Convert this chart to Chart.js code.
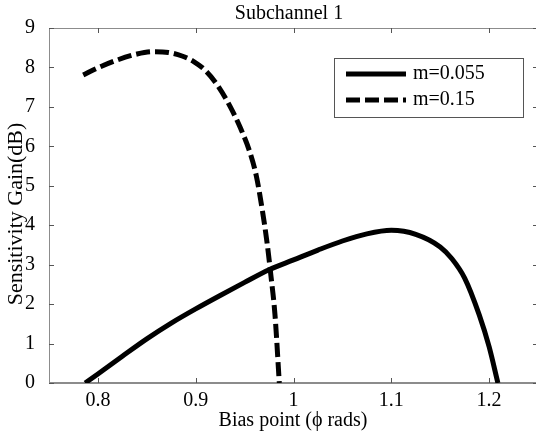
<!DOCTYPE html>
<html>
<head>
<meta charset="utf-8">
<script src="https://cdn.jsdelivr.net/npm/chart.js@4/dist/chart.umd.min.js"></script>
<style>
  html, body { margin: 0; padding: 0; background: #fff; overflow: hidden; }
  #wrap { width: 538px; height: 436px; position: relative; }
</style>
</head>
<body>
<div id="wrap"><canvas id="chart"></canvas></div>
<script>
// values
const xSolid = [0.787, 0.80, 0.825, 0.85, 0.875, 0.90, 0.925, 0.95, 0.975, 1.0, 1.025, 1.05, 1.075, 1.10, 1.125, 1.15, 1.162, 1.175, 1.19, 1.20, 1.209];
const ySolid = [0, 0.23, 0.68, 1.12, 1.52, 1.88, 2.22, 2.55, 2.87, 3.12, 3.37, 3.60, 3.78, 3.87, 3.77, 3.45, 3.15, 2.66, 1.72, 0.92, 0];

const xDashed = [0.785, 0.80, 0.82, 0.84, 0.857, 0.872, 0.886, 0.898, 0.91, 0.922, 0.935, 0.946, 0.955, 0.962, 0.968, 0.973, 0.977, 0.981, 0.9855];
const yDashed = [7.81, 7.99, 8.19, 8.34, 8.40, 8.38, 8.29, 8.15, 7.92, 7.56, 7.02, 6.45, 5.88, 5.25, 4.40, 3.55, 2.70, 1.75, 0];

const seriesLabels = ['m=0.055', 'm=0.15'];
const xTicks = [0.8, 0.9, 1.0, 1.1, 1.2];
const yTicks = [0, 1, 2, 3, 4, 5, 6, 7, 8, 9];

const titleText = 'Subchannel 1';
const xTitle = 'Bias point (\u03D5 rads)';
const yTitle = 'Sensitivity Gain(dB)';

const FONT = "'Liberation Serif', 'Times New Roman', serif";
const axisGray = '#8c8c8c';

const toPoints = (xs, ys) => xs.map((x, i) => ({ x: x, y: ys[i] }));

// box, inner ticks, title, axis titles and legend
const decorations = {
    id: 'decorations',
    beforeDatasetsDraw(chart) {
        const { ctx, chartArea: a, scales } = chart;
        ctx.save();
        ctx.strokeStyle = axisGray;
        ctx.lineWidth = 1;
        ctx.beginPath();
        // box
        ctx.moveTo(a.left + 0.5, a.top + 0.5);
        ctx.lineTo(a.right - 0.5, a.top + 0.5);
        ctx.lineTo(a.right - 0.5, a.bottom);
        ctx.moveTo(a.left + 0.5, a.top);
        ctx.lineTo(a.left + 0.5, a.bottom);
        ctx.stroke();
        ctx.lineWidth = 2;
        ctx.beginPath();
        ctx.moveTo(a.left, a.bottom);
        ctx.lineTo(a.right, a.bottom);
        ctx.stroke();

        ctx.strokeStyle = '#555';
        ctx.lineWidth = 1;
        ctx.beginPath();
        xTicks.forEach(v => {
            const px = Math.round(scales.x.getPixelForValue(v)) + 0.5;
            ctx.moveTo(px, a.bottom);
            ctx.lineTo(px, a.bottom - 5);
            ctx.moveTo(px, a.top);
            ctx.lineTo(px, a.top + 5);
        });
        yTicks.forEach(v => {
            const py = Math.round(scales.y.getPixelForValue(v)) + 0.5;
            ctx.moveTo(a.left, py);
            ctx.lineTo(a.left + 5, py);
            ctx.moveTo(a.right, py);
            ctx.lineTo(a.right - 5, py);
        });
        ctx.stroke();
        ctx.restore();
    },
    afterDraw(chart) {
        const { ctx } = chart;
        ctx.save();
        ctx.fillStyle = '#000';
        ctx.textAlign = 'center';
        ctx.textBaseline = 'middle';
        ctx.font = '20px ' + FONT;
        ctx.fillText(titleText, 289, 14);
        ctx.fillText(xTitle, 293, 421);

        ctx.save();
        ctx.font = '22px ' + FONT;
        ctx.translate(16, 214);
        ctx.rotate(-Math.PI / 2);
        ctx.fillText(yTitle, 0, 0);
        ctx.restore();

        // legend
        const lx = 334, ly = 58, lw = 189, lh = 59;
        ctx.fillStyle = '#fff';
        ctx.fillRect(lx, ly, lw, lh);
        ctx.strokeStyle = '#555';
        ctx.lineWidth = 1;
        ctx.strokeRect(lx + 0.5, ly + 0.5, lw, lh);
        chart.data.datasets.forEach((ds, i) => {
            const yy = ly + 16 + i * 26;
            ctx.strokeStyle = ds.borderColor;
            ctx.lineWidth = ds.borderWidth;
            ctx.lineCap = 'butt';
            ctx.setLineDash(ds.borderDash || []);
            ctx.beginPath();
            ctx.moveTo(lx + 12, yy);
            ctx.lineTo(lx + 72, yy);
            ctx.stroke();
            ctx.setLineDash([]);
            ctx.fillStyle = '#000';
            ctx.font = '20px ' + FONT;
            ctx.textAlign = 'left';
            ctx.fillText(ds.label, lx + 79, yy);
        });
        ctx.restore();
    }
};

new Chart(document.getElementById('chart'), {
    type: 'scatter',
    data: {
        datasets: [
            {
                label: seriesLabels[0],
                data: toPoints(xSolid, ySolid),
                showLine: true,
                borderColor: '#000',
                borderWidth: 5,
                pointRadius: 0,
                cubicInterpolationMode: 'monotone',
                borderCapStyle: 'butt'
            },
            {
                label: seriesLabels[1],
                data: toPoints(xDashed, yDashed),
                showLine: true,
                borderColor: '#000',
                borderWidth: 5,
                borderDash: [14, 5],
                pointRadius: 0,
                cubicInterpolationMode: 'monotone',
                borderCapStyle: 'butt'
            }
        ]
    },
    options: {
        responsive: true,
        maintainAspectRatio: false,
        animation: false,
        events: [],
        layout: { padding: { top: 28, left: 0, right: 0, bottom: 0 } },
        plugins: {
            legend: { display: false },
            title: { display: false },
            tooltip: { enabled: false }
        },
        scales: {
            x: {
                type: 'linear',
                min: 0.75,
                max: 1.25,
                grid: { display: false },
                border: { display: false },
                afterBuildTicks: s => { s.ticks = xTicks.map(v => ({ value: v })); },
                afterFit: s => { s.height = 53; },
                ticks: {
                    color: '#000',
                    padding: -2,
                    maxRotation: 0,
                    font: { family: FONT, size: 20 },
                    callback: v => String(+Number(v).toFixed(2))
                }
            },
            y: {
                type: 'linear',
                min: 0,
                max: 9,
                grid: { display: false },
                border: { display: false },
                afterBuildTicks: s => { s.ticks = yTicks.map(v => ({ value: v })); },
                afterFit: s => { s.width = 49; },
                ticks: {
                    color: '#000',
                    padding: 6,
                    font: { family: FONT, size: 20 },
                    callback: v => String(v)
                }
            }
        }
    },
    plugins: [decorations]
});
</script>
</body>
</html>
